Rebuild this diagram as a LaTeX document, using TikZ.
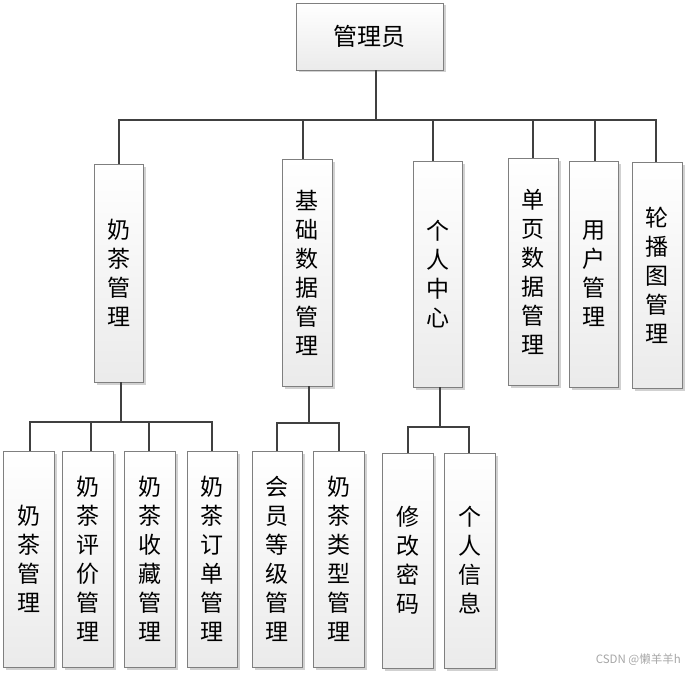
\documentclass[tikz,border=0pt]{standalone}
\usepackage{fontspec}
\setmainfont{Noto Sans CJK SC}
\newfontfamily\wmfont{Noto Sans CJK SC}
\usetikzlibrary{shadows}
\definecolor{boxline}{HTML}{7F7F7F}
\definecolor{connline}{HTML}{404040}
\tikzset{
  box/.style={draw=boxline, line width=0.8pt, top color=white, bottom color=black!8,
    drop shadow={shadow xshift=2.5pt, shadow yshift=-2.5pt, fill=black!18, opacity=1},
    inner sep=0pt, align=center, font=\fontsize{23}{29}\selectfont},
  conn/.style={draw=connline, line width=1.7pt},
}
\begin{document}
\begin{tikzpicture}[x=1pt,y=-1pt]
\useasboundingbox (0,0) rectangle (687,674);
% top
\node[box, minimum width=147, minimum height=67, font=\fontsize{24}{29}\selectfont] (top) at (369.5,36.5) {管理员};
% level 1
\node[box, minimum width=49, minimum height=218] (n1) at (118.5,273) {奶\\茶\\管\\理};
\node[box, minimum width=50, minimum height=227] (n2) at (307,272.5) {基\\础\\数\\据\\管\\理};
\node[box, minimum width=49, minimum height=226] (n3) at (437.5,274) {个\\人\\中\\心};
\node[box, minimum width=50, minimum height=227] (n4) at (533,271.5) {单\\页\\数\\据\\管\\理};
\node[box, minimum width=49, minimum height=226] (n5) at (593.5,274) {用\\户\\管\\理};
\node[box, minimum width=50, minimum height=226] (n6) at (657,275) {轮\\播\\图\\管\\理};
% level 2
\node[box, minimum width=51, minimum height=216] (m1) at (28.5,559) {奶\\茶\\管\\理};
\node[box, minimum width=51, minimum height=216] (m2) at (87.5,559) {奶\\茶\\评\\价\\管\\理};
\node[box, minimum width=51, minimum height=216] (m3) at (150,559) {奶\\茶\\收\\藏\\管\\理};
\node[box, minimum width=50, minimum height=216] (m4) at (212,559) {奶\\茶\\订\\单\\管\\理};
\node[box, minimum width=50, minimum height=216] (m5) at (277,559) {会\\员\\等\\级\\管\\理};
\node[box, minimum width=51, minimum height=216] (m6) at (338.5,559) {奶\\茶\\类\\型\\管\\理};
\node[box, minimum width=51, minimum height=215] (m7) at (407.5,560.5) {修\\改\\密\\码};
\node[box, minimum width=51, minimum height=215] (m8) at (469.5,560.5) {个\\人\\信\\息};
% bus coordinates
\coordinate (b0) at (376,120);
\coordinate (c1) at (119,120);
\coordinate (c2) at (303,120);
\coordinate (c3) at (433,120);
\coordinate (c4) at (533,120);
\coordinate (c5) at (595,120);
\coordinate (c6) at (656,120);
\draw[conn] (top.south -| b0) -- (b0);
\draw[conn] (c1 |- n1.north) -- (c1) -- (c6) -- (c6 |- n6.north);
\foreach \c/\n in {c2/n2,c3/n3,c4/n4,c5/n5}{
  \draw[conn] (\c) -- (\c |- \n.north);
}
% group 1
\coordinate (p1) at (121,422);
\coordinate (d1) at (30,422);
\coordinate (d2) at (91,422);
\coordinate (d3) at (149,422);
\coordinate (d4) at (212,422);
\draw[conn] (n1.south -| p1) -- (p1);
\draw[conn] (d1 |- m1.north) -- (d1) -- (d4) -- (d4 |- m4.north);
\draw[conn] (d2) -- (d2 |- m2.north);
\draw[conn] (d3) -- (d3 |- m3.north);
% group 2
\coordinate (p2) at (309,423);
\coordinate (d5) at (277,423);
\coordinate (d6) at (339,423);
\draw[conn] (n2.south -| p2) -- (p2);
\draw[conn] (d5 |- m5.north) -- (d5) -- (d6) -- (d6 |- m6.north);
% group 3
\coordinate (p3) at (440,427);
\coordinate (d7) at (408,427);
\coordinate (d8) at (469,427);
\draw[conn] (n3.south -| p3) -- (p3);
\draw[conn] (d7 |- m7.north) -- (d7) -- (d8) -- (d8 |- m8.north);
% watermark
\node[text=black!35, font=\wmfont\fontsize{11.5}{13}\selectfont, anchor=east, inner sep=0pt] (wm) at (681,660) {CSDN @懒羊羊h};
\end{tikzpicture}
\end{document}
